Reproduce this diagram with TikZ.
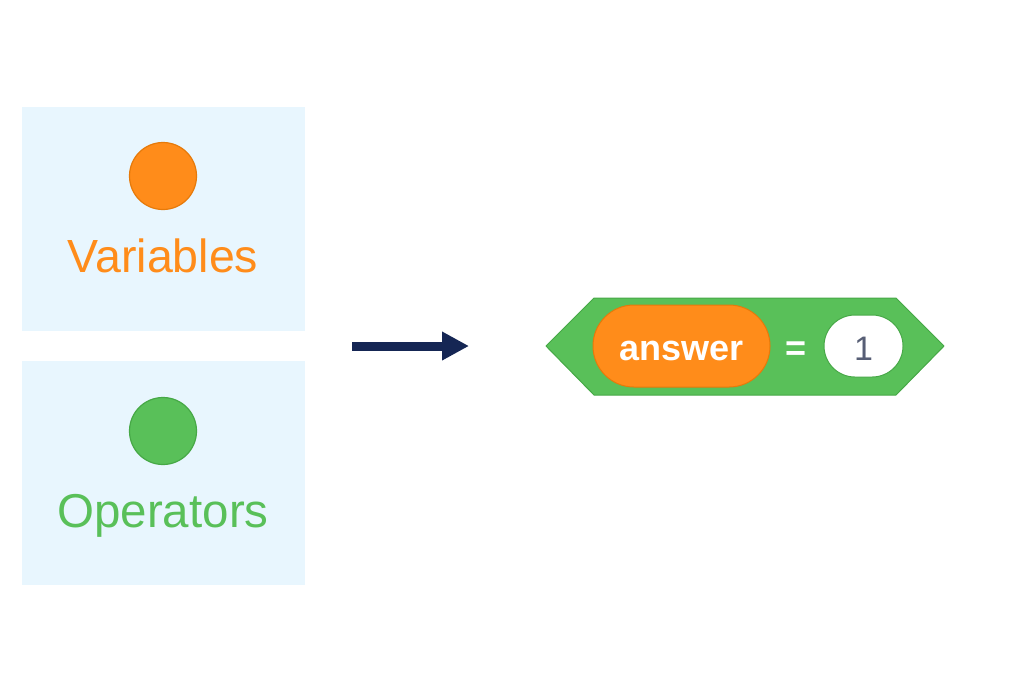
\documentclass[tikz,border=0pt]{standalone}
\usepackage{fontspec}
\setmainfont{Liberation Sans}
\usetikzlibrary{arrows.meta}
\definecolor{boxbg}{HTML}{E8F6FE}
\definecolor{varorange}{HTML}{FF8C1A}
\definecolor{varborder}{HTML}{E67A0A}
\definecolor{opgreen}{HTML}{59C059}
\definecolor{opborder}{HTML}{46A846}
\definecolor{navy}{HTML}{152654}
\definecolor{numgrey}{HTML}{575E75}
\tikzset{
  catbox/.style={fill=boxbg, draw=none, minimum width=283pt, minimum height=224pt, inner sep=0pt},
  catdot/.style={circle, minimum size=67pt, inner sep=0pt, line width=1.2pt},
  catlabel/.style={font=\fontsize{46.5}{54}\selectfont, inner sep=0pt, anchor=base},
  pilltext/.style={font=\bfseries\fontsize{36}{40}\selectfont, text=white, inner sep=0pt, anchor=base},
}
\begin{document}
\begin{tikzpicture}[x=1pt,y=-1pt]
\useasboundingbox (0,0) rectangle (1024,681);
% category boxes
\node[catbox] (varbox) at (163.5,219) {};
\node[catbox] (opbox) at (163.5,472.5) {};
\node[catdot, fill=varorange, draw=varborder] (vardot) at (163,176) {};
\node[catlabel, text=varorange] (varlabel) at (163,272) {Variables};
\node[catdot, fill=opgreen, draw=opborder] (opdot) at (163,431) {};
\node[catlabel, text=opgreen, font=\fontsize{47.5}{54}\selectfont] (oplabel) at (163,527) {Operators};
% arrow
\coordinate (arrstart) at (352,346);
\coordinate (arrend) at (469,346);
\draw[navy, line width=9pt, -{Triangle[length=27pt,width=27pt]}] (arrstart) -- (arrend);
% hexagon block
\coordinate (hl) at (546,346);
\coordinate (htl) at (594,298);
\coordinate (htr) at (896,298);
\coordinate (hr) at (944,346);
\coordinate (hbr) at (896,395);
\coordinate (hbl) at (594,395);
\draw[fill=opgreen, draw=opborder, line width=1pt, line join=round] (hl) -- (htl) -- (htr) -- (hr) -- (hbr) -- (hbl) -- cycle;
% orange reporter
\path[fill=varorange, draw=varborder, line width=1pt, rounded corners=40.9pt] (593,305) rectangle (770,387);
\node[pilltext] (answer) at (681.5,360) {answer};
\node[pilltext] (eq) at (796,360) {=};
% white input
\path[fill=white, draw=opborder, line width=1pt, rounded corners=30.9pt] (824,315) rectangle (903,377);
\node[font=\fontsize{34}{40}\selectfont, text=numgrey, inner sep=0pt, anchor=base] (one) at (863.5,360) {1};
\end{tikzpicture}
\end{document}
